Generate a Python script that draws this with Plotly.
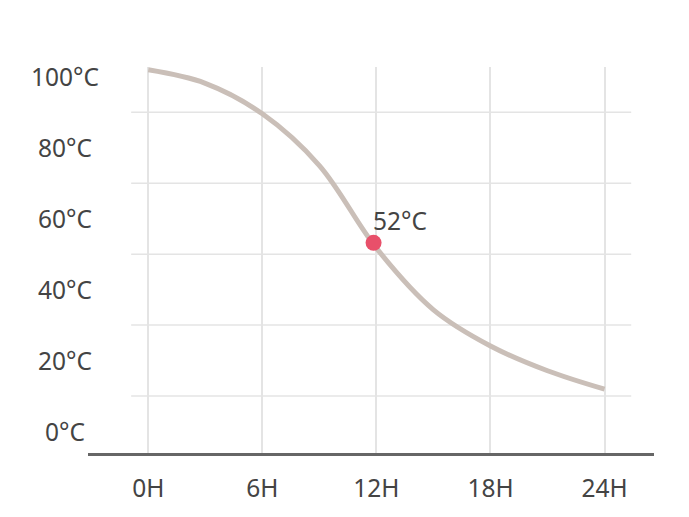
import plotly.graph_objects as go

# Data
hours = [0, 3, 6, 9, 12, 15, 18, 21, 24]
temps = [102, 98.2, 89.6, 75.0, 51.7, 34.3, 24.1, 17.1, 11.9]

x_ticks = [0, 6, 12, 18, 24]
x_labels = ["0H", "6H", "12H", "18H", "24H"]
y_ticks = [0, 20, 40, 60, 80, 100]
y_labels = ["0°C", "20°C", "40°C", "60°C", "80°C", "100°C"]
h_grid = [10, 30, 50, 70, 90]

point_x = [11.85]
point_y = [53.2]
point_label = ["52°C"]

FONT = "Noto Sans"
TEXT_COLOR = "#444444"

W, H = 689, 517
ml, mr, mt, mb = 80, 43, 59, 72
x_range = [-3.17, 26.6]
y_range = [-6.1, 102.8]

fig = go.Figure()

fig.add_trace(go.Scatter(
    x=hours, y=temps, mode="lines",
    line=dict(color="#cabfb8", width=5, shape="spline", smoothing=1.0),
    hoverinfo="skip", showlegend=False,
))

fig.add_trace(go.Scatter(
    x=point_x, y=point_y, mode="markers",
    marker=dict(color="#e8506a", size=16, line=dict(width=0)),
    hoverinfo="skip", showlegend=False,
))

for yv in h_grid:
    fig.add_shape(type="line", xref="x", yref="y", x0=-0.9, x1=25.4, y0=yv, y1=yv,
                  line=dict(color="#e4e4e4", width=1.5), layer="below")

annotations = []
for yv, t in zip(y_ticks, y_labels):
    annotations.append(dict(
        xref="paper", yref="y", x=(57 - ml) / (W - ml - mr), y=yv, text=t,
        showarrow=False, xanchor="center", yanchor="middle",
        font=dict(family=FONT, size=24.5, color=TEXT_COLOR),
    ))
for px_, py_, t in zip(point_x, point_y, point_label):
    annotations.append(dict(
        xref="x", yref="y", x=px_, y=py_, text=t, showarrow=False,
        xanchor="left", yanchor="middle", yshift=22, xshift=-3,
        font=dict(family=FONT, size=24.5, color=TEXT_COLOR),
    ))

fig.update_layout(
    width=W, height=H,
    margin=dict(l=ml, r=mr, t=mt, b=mb),
    paper_bgcolor="white", plot_bgcolor="white",
    showlegend=False,
    annotations=annotations,
    xaxis=dict(
        range=x_range, tickmode="array", tickvals=x_ticks, ticktext=x_labels,
        showgrid=True, gridcolor="#e4e4e4", gridwidth=1.5,
        showline=True, linecolor="#666666", linewidth=3,
        ticks="", zeroline=False, ticklabelstandoff=12,
        tickfont=dict(family=FONT, size=24.5, color=TEXT_COLOR),
        fixedrange=True,
    ),
    yaxis=dict(
        range=y_range, showgrid=False, zeroline=False, showline=False,
        showticklabels=False, ticks="", fixedrange=True,
    ),
)

fig.write_html("out.html")
